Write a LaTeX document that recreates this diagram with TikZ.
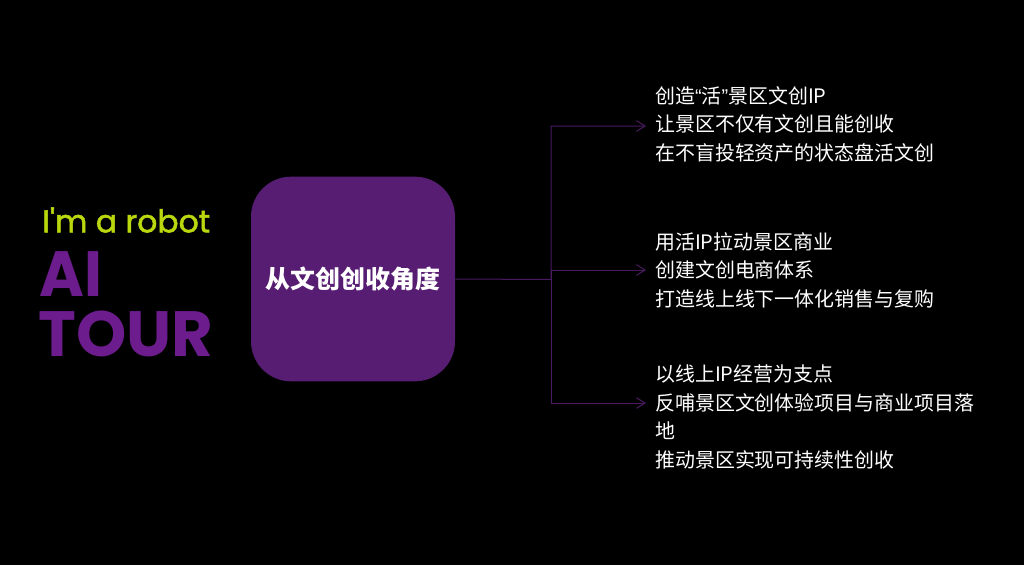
\documentclass[tikz,border=0pt]{standalone}
\usepackage{fontspec}
\setmainfont{Noto Sans CJK SC}
\newfontfamily\lat{Poppins}
\newfontfamily\latm[FakeBold=1.6]{Poppins}
\newfontfamily\qf{Liberation Sans}
\usetikzlibrary{arrows.meta}
\definecolor{pur}{HTML}{571D72}
\definecolor{lnk}{HTML}{4A1A62}
\definecolor{tpur}{HTML}{6C1C8C}
\definecolor{lime}{HTML}{BBD80E}
\tikzset{
 px/.style={x=0.75pt,y=-0.75pt},
 item/.style={anchor=north west,text=white,font=\fontsize{14.95pt}{21.4pt}\selectfont,align=left,inner sep=0pt,text width=240pt},
 conn/.style={draw=lnk,line width=0.75pt,-{Straight Barb[length=6.5pt,width=8pt]}},
 brand/.style={anchor=west,inner sep=0pt,font=\lat\bfseries}
}
\begin{document}
\begin{tikzpicture}[px]
\useasboundingbox (0,0) rectangle (1024,565);
\fill[black] (0,0) rectangle (1024,565);
\node[brand,text=lime,font=\latm\fontsize{23.6pt}{24pt}\selectfont] (robot) at (42,220) {I'm a robot};
\node[brand,text=tpur,xscale=0.95,font=\lat\bfseries\fontsize{48pt}{48pt}\selectfont] (ai) at (39,274) {AI};
\node[brand,text=tpur,font=\lat\bfseries\fontsize{48pt}{48pt}\selectfont] (tour) at (38,334) {TOUR};
\node[fill=pur,rounded corners=30pt,minimum width=153pt,minimum height=153.5pt,inner sep=0pt,text=white,font=\bfseries\fontsize{18.7pt}{20pt}\selectfont] (hub) at (353,279) {从文创创收角度};
\coordinate (j) at (551,279.5);
\node[item] (t1) at (655,86) {创造{\qf“}活{\qf”}景区文创IP\\让景区不仅有文创且能创收\\在不盲投轻资产的状态盘活文创};
\node[item] (t2) at (655,232) {用活IP拉动景区商业\\创建文创电商体系\\打造线上线下一体化销售与复购};
\node[item] (t3) at (655,364.5) {以线上IP经营为支点\\反哺景区文创体验项目与商业项目落\\地\\推动景区实现可持续性创收};
\coordinate (a1) at (646,126);
\coordinate (a2) at (646,270);
\coordinate (a3) at (646,403);
\draw[conn] (hub.east) -- (j) |- (a1);
\draw[conn] (j) |- (a2);
\draw[conn] (j) |- (a3);
\end{tikzpicture}
\end{document}
